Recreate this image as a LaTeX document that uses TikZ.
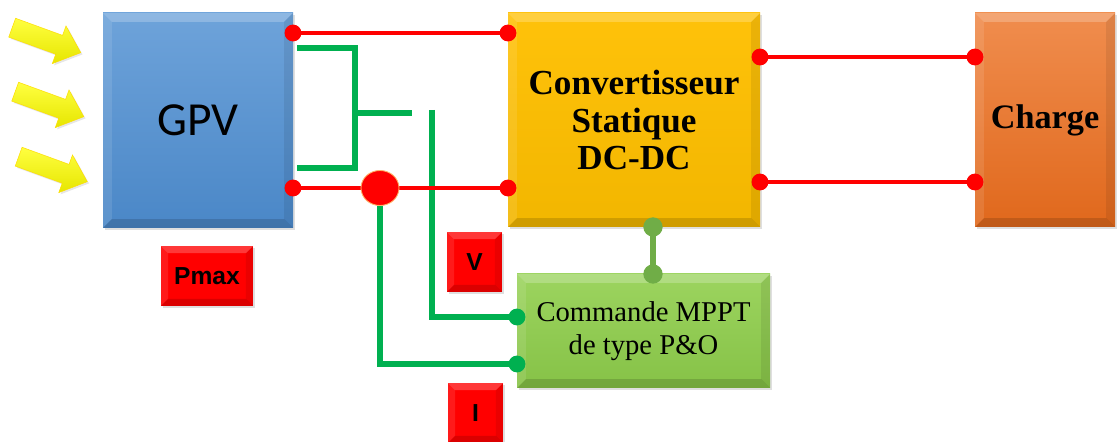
\documentclass[tikz,border=0pt]{standalone}
\usepackage{fontspec}
\setmainfont{Liberation Serif}
\newfontfamily\carlito{Carlito}
\newfontfamily\arialf{Liberation Sans}
\usetikzlibrary{shadows,calc,shapes.geometric}
\definecolor{gpvtop}{HTML}{6EA3DA}
\definecolor{gpvbot}{HTML}{4A87C7}
\definecolor{convtop}{HTML}{FFC20A}
\definecolor{convbot}{HTML}{F2B600}
\definecolor{chtop}{HTML}{F08D4E}
\definecolor{chbot}{HTML}{E0681C}
\definecolor{mptop}{HTML}{9CD45F}
\definecolor{mpbot}{HTML}{86C247}
\definecolor{lgreen}{HTML}{00B050}
\definecolor{dgreen}{HTML}{70AD47}
\definecolor{rred}{HTML}{FF0000}
\definecolor{aytop}{HTML}{FFFF40}
\definecolor{aybot}{HTML}{E6E600}
\tikzset{
  bevel/.style={path picture={
    \path (path picture bounding box.north west) coordinate (pa)
          (path picture bounding box.north east) coordinate (pb)
          (path picture bounding box.south east) coordinate (pc)
          (path picture bounding box.south west) coordinate (pd);
    \fill[white,opacity=.22] (pa) -- (pb) -- ($(pb)+(-#1,-#1)$) -- ($(pa)+(#1,-#1)$) -- cycle;
    \fill[white,opacity=.10] (pa) -- (pd) -- ($(pd)+(#1,#1)$) -- ($(pa)+(#1,-#1)$) -- cycle;
    \fill[black,opacity=.08] (pb) -- (pc) -- ($(pc)+(-#1,#1)$) -- ($(pb)+(-#1,-#1)$) -- cycle;
    \fill[black,opacity=.14] (pd) -- (pc) -- ($(pc)+(-#1,#1)$) -- ($(pd)+(#1,#1)$) -- cycle;
  }},
  box/.style={rectangle, inner sep=0pt, align=center, bevel=#1,
    drop shadow={opacity=.25, shadow xshift=1.2pt, shadow yshift=-1.2pt}},
  box/.default=5pt,
  redtag/.style={box=4pt, fill=rred, minimum width=#1, minimum height=34pt,
    font=\arialf\bfseries\fontsize{14}{16}\selectfont},
  rline/.style={draw=rred, line width=2.8pt},
  gline/.style={draw=lgreen, line width=3pt},
  rdot/.style={fill=rred, circle, inner sep=0pt, minimum size=9.6pt},
  gdot/.style={fill=lgreen, circle, inner sep=0pt, minimum size=9.6pt},
  ddot/.style={fill=dgreen, circle, inner sep=0pt, minimum size=11pt},
  sunarrow/.style={top color=aytop, bottom color=aybot, draw=yellow!80!orange, line width=.3pt,
    drop shadow={opacity=.2, shadow xshift=1pt, shadow yshift=-1pt}}
}
\begin{document}
\begin{tikzpicture}[x=0.02cm, y=-0.02cm]
\useasboundingbox (0,0) rectangle (1117,442);

% sun arrows
\foreach \cx/\cy [count=\k] in {46/40, 49/104, 52.5/169}{
  \begin{scope}[shift={(\cx,\cy)}, rotate=-20]
    \path[sunarrow] (-36,-10) -- (14,-10) -- (14,-20) -- (37,0) -- (14,20) -- (14,10) -- (-36,10) -- cycle;
  \end{scope}
}

% boxes
\node[box, top color=gpvtop, bottom color=gpvbot, minimum width=190*0.02cm, minimum height=215*0.02cm,
      font=\carlito\fontsize{27}{30}\selectfont] (gpv) at (198,120.5) {\raisebox{-2pt}{GPV}};
\node[box, top color=convtop, bottom color=convbot, minimum width=252*0.02cm, minimum height=214*0.02cm,
      font=\bfseries\fontsize{20}{21.5}\selectfont] (conv) at (634,120) {Convertisseur\\Statique\\DC-DC};
\node[box, top color=chtop, bottom color=chbot, minimum width=140*0.02cm, minimum height=214*0.02cm,
      font=\bfseries\fontsize{19.5}{22}\selectfont] (charge) at (1045,120) {\raisebox{-2pt}{Charge}};
\node[box, top color=mptop, bottom color=mpbot, minimum width=253*0.02cm, minimum height=114*0.02cm,
      font=\fontsize{16.3}{18.8}\selectfont] (mppt) at (643.5,331) {Commande MPPT\\de type P\&O};
\node[redtag=92*0.02cm] (pmax) at (207,276) {Pmax};
\node[redtag=55*0.02cm] (vtag) at (474.5,262) {V};
\node[redtag=55*0.02cm] (itag) at (475.5,413) {I};

% connection points
\coordinate (g1) at (293,33);  \coordinate (c1) at (508,33);
\coordinate (g2) at (293,188); \coordinate (c2) at (508,188);
\coordinate (c3) at (760,57);  \coordinate (l1) at (975,57);
\coordinate (c4) at (760,182); \coordinate (l2) at (975,182);
\coordinate (m1) at (517,317); \coordinate (m2) at (517,364);
\coordinate (cb) at (653,227); \coordinate (mt) at (653,274);
\coordinate (b1) at (297,48);  \coordinate (b2) at (297,168);
\coordinate (b3) at (355,48);  \coordinate (b4) at (355,168);
\coordinate (b5) at (355,113); \coordinate (b6) at (412,113);
\coordinate (vs) at (432,110);

% green measurement lines
\draw[gline] (b1) -- (b3) -- (b4) -- (b2);
\draw[gline] (b5) -- (b6);
\draw[gline] (vs) -- (vs |- m1) -- (m1);

% red power lines
\draw[rline] (g1) -- (c1);
\draw[rline] (g2) -- (c2);
\draw[rline] (c3) -- (l1);
\draw[rline] (c4) -- (l2);

% current sensor
\node[ellipse, fill=rred, draw=orange!60, line width=.5pt, minimum width=38*0.02cm, minimum height=35*0.02cm, inner sep=0pt] (isens) at (380,188) {};
\draw[gline] (isens.south) -- (isens.south |- m2) -- (m2);

% converter to MPPT
\draw[draw=dgreen, line width=3pt] (cb) -- (mt);

% dots
\foreach \p in {g1,c1,g2,c2,c3,l1,c4,l2}{\node[rdot] at (\p) {};}
\foreach \p in {m1,m2}{\node[gdot] at (\p) {};}
\foreach \p in {cb,mt}{\node[ddot] at (\p) {};}
\end{tikzpicture}
\end{document}
